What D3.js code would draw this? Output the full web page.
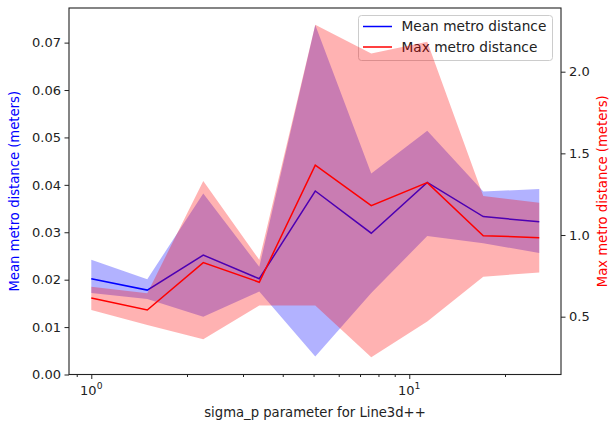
<!DOCTYPE html>
<html><head><meta charset="utf-8">
<script src="https://cdn.jsdelivr.net/npm/d3@7"></script>
<style>body{margin:0;background:#fff}svg{display:block;font-family:"DejaVu Sans",sans-serif}</style>
</head><body>
<svg id="c" width="610" height="423"></svg>
<script>
const sigmaP = [1, 1.5, 2.25, 3.375, 5.0625, 7.59375, 11.390625, 17.0859375, 25.62890625];
const meanDist = [0.0202, 0.0178, 0.0252, 0.0202, 0.0387, 0.0298, 0.0405, 0.0333, 0.0322];
const meanUpper = [0.0242, 0.0201, 0.0382, 0.0227, 0.0737, 0.0424, 0.0514, 0.0386, 0.0391];
const meanLower = [0.0172, 0.0159, 0.0122, 0.0175, 0.0038, 0.0172, 0.0292, 0.0277, 0.0256];
const maxDist = [0.614, 0.541, 0.831, 0.711, 1.428, 1.180, 1.321, 0.996, 0.984];
const maxUpper = [0.684, 0.643, 1.331, 0.848, 2.287, 2.111, 2.184, 1.239, 1.198];
const maxLower = [0.541, 0.449, 0.362, 0.568, 0.568, 0.252, 0.470, 0.745, 0.770];
const leftTicks = [0, 0.01, 0.02, 0.03, 0.04, 0.05, 0.06, 0.07];
const rightTicks = [0.5, 1.0, 1.5, 2.0];
const xMajor = [1, 10];
const xMinor = [0.9, 2, 3, 4, 5, 6, 7, 8, 9, 20];
const seriesNames = ["Mean metro distance", "Max metro distance"];

const L = 69, R = 561, T = 8, B = 374.5;
const FS = 13.2, FT = 13.0;
const svg = d3.select("#c");
const x = d3.scaleLog().domain([0.851, 30.0]).range([L, R]);
const yL = d3.scaleLinear().domain([0, 0.0773]).range([B, T]);
const yR = d3.scaleLinear().domain([0.146, 2.39]).range([B, T]);

const idx = d3.range(sigmaP.length);
svg.append("clipPath").attr("id","pc").append("rect")
  .attr("x",L).attr("y",T).attr("width",R-L).attr("height",B-T);

const plot = svg.append("g").attr("clip-path","url(#pc)");
plot.append("path").datum(idx)
  .attr("d", d3.area().x(i=>x(sigmaP[i])).y0(i=>yL(meanLower[i])).y1(i=>yL(meanUpper[i])))
  .attr("fill","#0000ff").attr("fill-opacity",0.3);
plot.append("path").datum(idx)
  .attr("d", d3.line().x(i=>x(sigmaP[i])).y(i=>yL(meanDist[i])))
  .attr("fill","none").attr("stroke","#0000ff").attr("stroke-width",1.5);

// legend (left axes, drawn under right-axis content)
const lg = svg.append("g");
lg.append("rect").attr("x",358.5).attr("y",15.5).attr("width",194).attr("height",45)
  .attr("rx",3).attr("fill","#fff").attr("fill-opacity",0.8).attr("stroke","#cccccc").attr("stroke-width",1);
const lcol = ["#0000ff","#ff0000"];
seriesNames.forEach((n,k)=>{
  const yy = 26.5 + k*20.5;
  lg.append("line").attr("x1",363).attr("x2",392).attr("y1",yy).attr("y2",yy)
    .attr("stroke",lcol[k]).attr("stroke-width",1.5);
  lg.append("text").attr("x",401.5).attr("y",yy+4.8).attr("font-size",13.7).attr("fill","#222").text(n);
});

const plot2 = svg.append("g").attr("clip-path","url(#pc)");
plot2.append("path").datum(idx)
  .attr("d", d3.area().x(i=>x(sigmaP[i])).y0(i=>yR(maxLower[i])).y1(i=>yR(maxUpper[i])))
  .attr("fill","#ff0000").attr("fill-opacity",0.3);
plot2.append("path").datum(idx)
  .attr("d", d3.line().x(i=>x(sigmaP[i])).y(i=>yR(maxDist[i])))
  .attr("fill","none").attr("stroke","#ff0000").attr("stroke-width",1.5);

const ink = "#222";
const axL = svg.append("g").attr("transform",`translate(${L},0)`)
  .call(d3.axisLeft(yL).tickValues(leftTicks).tickFormat(d3.format(".2f")).tickSize(4.5).tickPadding(3.5));
const axR = svg.append("g").attr("transform",`translate(${R},0)`)
  .call(d3.axisRight(yR).tickValues(rightTicks).tickFormat(d3.format(".1f")).tickSize(4.5).tickPadding(3.5));
const axB = svg.append("g").attr("transform",`translate(0,${B})`)
  .call(d3.axisBottom(x).tickValues(xMajor).tickFormat("").tickSize(4.5));
const axBm = svg.append("g").attr("transform",`translate(0,${B})`)
  .call(d3.axisBottom(x).tickValues(xMinor).tickFormat("").tickSize(2.5));
[axL,axR,axB,axBm].forEach(a=>{
  a.select(".domain").remove();
  a.selectAll("line").attr("stroke",ink).attr("stroke-width",1);
  a.selectAll("text").attr("font-size",FT).attr("fill",ink).attr("font-family","DejaVu Sans");
});
xMajor.forEach(v=>{
  const t = svg.append("text").attr("x",x(v)).attr("y",B+20).attr("text-anchor","middle")
    .attr("font-size",FT).attr("fill",ink);
  t.append("tspan").text("10");
  t.append("tspan").attr("dy",-5.5).attr("font-size",9.2).text(String(Math.round(Math.log10(v))));
});
svg.append("rect").attr("x",L).attr("y",T).attr("width",R-L).attr("height",B-T)
  .attr("fill","none").attr("stroke",ink).attr("stroke-width",1.1);

svg.append("text").attr("x",(L+R)/2).attr("y",417).attr("text-anchor","middle")
  .attr("font-size",FS).attr("fill",ink).text("sigma_p parameter for Line3d++");
svg.append("text").attr("transform",`translate(18.5,${(T+B)/2}) rotate(-90)`).attr("text-anchor","middle")
  .attr("font-size",FS).attr("fill","#0000ff").text("Mean metro distance (meters)");
svg.append("text").attr("transform",`translate(607,${(T+B)/2}) rotate(-90)`).attr("text-anchor","middle")
  .attr("font-size",FS).attr("fill","#ff0000").text("Max metro distance (meters)");
</script>
</body></html>
